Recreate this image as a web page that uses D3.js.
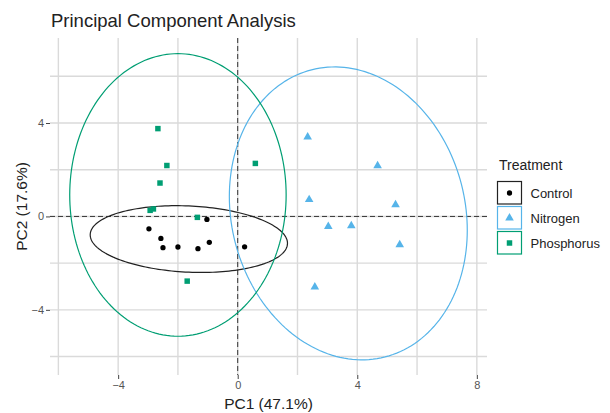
<!DOCTYPE html>
<html>
<head>
<meta charset="utf-8">
<script src="https://cdn.jsdelivr.net/npm/d3@7"></script>
<style>
  body { margin: 0; background: #fff; }
  text { font-family: "Liberation Sans", Arial, sans-serif; }
</style>
</head>
<body>
<div id="chart"></div>
<script>
// groups and their scores on PC1 / PC2
const groups = ["Control", "Nitrogen", "Phosphorus"];
const colors = ["#000000", "#56B4E9", "#009E73"];

const controlPC1 = [-2.97, -2.57, -2.50, -2.00, -1.33, -0.95, -1.03, 0.23];
const controlPC2 = [-0.53, -0.94, -1.34, -1.31, -1.38, -1.11, -0.13, -1.30];
const nitrogenPC1 = [2.34, 4.68, 2.39, 5.28, 3.03, 3.80, 5.42, 2.58];
const nitrogenPC2 = [3.40, 2.17, 0.72, 0.50, -0.43, -0.40, -1.21, -3.02];
const phosphorusPC1 = [-2.67, -2.37, -2.60, -2.93, -2.82, -1.35, -1.69, 0.59];
const phosphorusPC2 = [3.76, 2.18, 1.43, 0.26, 0.32, -0.04, -2.77, 2.27];

// ellipses: centre, half width, half height, y offset at the x extreme
const ellCx = [-1.635, 3.70, -2.0];
const ellCy = [-0.97, 0.13, 0.92];
const ellW = [3.30, 3.98, 3.62];
const ellH = [1.43, 6.27, 6.05];
const ellD = [-0.18, -0.72, 0.0];

const xTicks = [-4, 0, 4, 8];
const yTicks = [-4, 0, 4];
const gridX = [-6, -4, -2, 0, 2, 4, 6, 8];
const gridY = [-6, -4, -2, 0, 2, 4, 6];

const width = 610, height = 413;
const margin = { top: 38, right: 123, bottom: 38, left: 50 };

const svg = d3.select("#chart").append("svg")
    .attr("width", width)
    .attr("height", height);

const x = d3.scaleLinear()
    .domain([-6.28, 8.34])
    .range([margin.left, width - margin.right]);

const y = d3.scaleLinear()
    .domain([-6.79, 7.64])
    .range([height - margin.bottom, margin.top]);

// grid
svg.append("g").selectAll("line").data(gridX).join("line")
    .attr("x1", d => x(d)).attr("x2", d => x(d))
    .attr("y1", margin.top).attr("y2", height - margin.bottom)
    .attr("stroke", "#dadada").attr("stroke-width", 1.4);
svg.append("g").selectAll("line").data(gridY).join("line")
    .attr("y1", d => y(d)).attr("y2", d => y(d))
    .attr("x1", margin.left).attr("x2", width - margin.right)
    .attr("stroke", "#dadada").attr("stroke-width", 1.4);

// axes
const xAxis = svg.append("g")
    .attr("transform", `translate(0,${height - margin.bottom})`)
    .call(d3.axisBottom(x).tickValues(xTicks).tickSize(4).tickPadding(2).tickFormat(d3.format("d")));
const yAxis = svg.append("g")
    .attr("transform", `translate(${margin.left},0)`)
    .call(d3.axisLeft(y).tickValues(yTicks).tickSize(4).tickPadding(2).tickFormat(d3.format("d")));
[xAxis, yAxis].forEach(a => {
    a.select(".domain").remove();
    a.selectAll(".tick line").attr("stroke", "#444");
    a.selectAll(".tick text").attr("fill", "#555").style("font-size", "11px")
        .style("font-family", "'Liberation Sans', Arial, sans-serif");
});

// dashed reference lines
svg.append("line")
    .attr("x1", x(0)).attr("x2", x(0))
    .attr("y1", margin.top).attr("y2", height - margin.bottom)
    .attr("stroke", "#333").attr("stroke-dasharray", "5,3");
svg.append("line")
    .attr("y1", y(0)).attr("y2", y(0))
    .attr("x1", margin.left).attr("x2", width - margin.right)
    .attr("stroke", "#333").attr("stroke-dasharray", "5,3");

// ellipses
const angles = d3.range(0, 2 * Math.PI, Math.PI / 90);
const line = d3.line().curve(d3.curveLinearClosed);
groups.forEach((g, i) => {
    const b = Math.sqrt(ellH[i] * ellH[i] - ellD[i] * ellD[i]);
    const pts = angles.map(t => [
        x(ellCx[i] + ellW[i] * Math.cos(t)),
        y(ellCy[i] + ellD[i] * Math.cos(t) + b * Math.sin(t))
    ]);
    svg.append("path")
        .attr("d", line(pts))
        .attr("fill", "none")
        .attr("stroke", i === 0 ? "#222" : colors[i])
        .attr("stroke-width", 1.2);
});

// points
const symbols = [d3.symbolCircle, d3.symbolTriangle, d3.symbolSquare];
const sizes = [22, 32, 30];
const pc1 = [controlPC1, nitrogenPC1, phosphorusPC1];
const pc2 = [controlPC2, nitrogenPC2, phosphorusPC2];
groups.forEach((g, i) => {
    svg.append("g").selectAll("path")
        .data(pc1[i].map((v, j) => [v, pc2[i][j]]))
        .join("path")
        .attr("d", d3.symbol(symbols[i], sizes[i]))
        .attr("transform", d => `translate(${x(d[0])},${y(d[1])})`)
        .attr("fill", colors[i]);
});

// title
svg.append("text")
    .attr("x", 51)
    .attr("y", 26.5)
    .style("font-size", "18.5px")
    .attr("fill", "#222")
    .text("Principal Component Analysis");

// axis titles
svg.append("text")
    .attr("x", (margin.left + width - margin.right) / 2)
    .attr("y", 409)
    .attr("text-anchor", "middle")
    .style("font-size", "15.5px")
    .attr("fill", "#222")
    .text("PC1 (47.1%)");
svg.append("text")
    .attr("transform", `translate(27,${(margin.top + height - margin.bottom) / 2}) rotate(-90)`)
    .attr("text-anchor", "middle")
    .style("font-size", "15.5px")
    .attr("fill", "#222")
    .text("PC2 (17.6%)");

// legend
const legend = svg.append("g").attr("transform", "translate(497.5,0)");
legend.append("text")
    .attr("x", 1.5).attr("y", 170)
    .style("font-size", "14px")
    .attr("fill", "#222")
    .text("Treatment");
const key = legend.selectAll(".key").data(groups).join("g")
    .attr("class", "key")
    .attr("transform", (d, i) => `translate(0,${181.5 + i * 25})`);
key.append("rect")
    .attr("width", 24).attr("height", 22.5)
    .attr("fill", "#fff")
    .attr("stroke", (d, i) => i === 0 ? "#222" : colors[i])
    .attr("stroke-width", 1.2);
key.append("path")
    .attr("d", (d, i) => d3.symbol(symbols[i], sizes[i])())
    .attr("transform", "translate(12,11.5)")
    .attr("fill", (d, i) => colors[i]);
key.append("text")
    .attr("x", 33).attr("y", 16)
    .style("font-size", "13px")
    .attr("fill", "#222")
    .text(d => d);
</script>
</body>
</html>
